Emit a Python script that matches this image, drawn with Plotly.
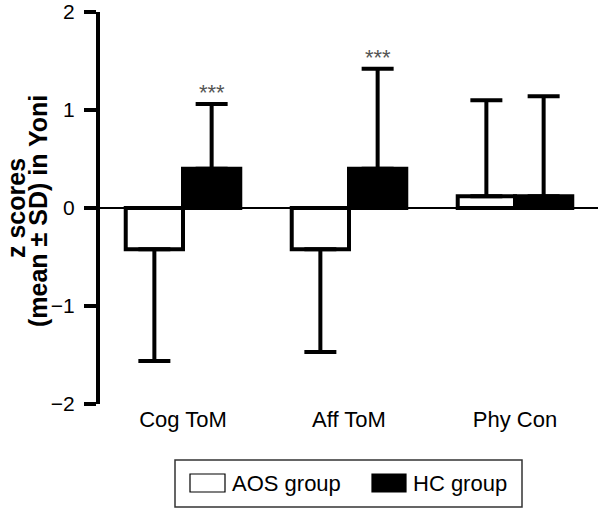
import plotly.graph_objects as go

categories = ["Cog ToM", "Aff ToM", "Phy Con"]
aos_mean = [-0.42, -0.42, 0.12]
aos_sd = [1.14, 1.05, 0.98]
hc_mean = [0.40, 0.40, 0.12]
hc_sd = [0.66, 1.02, 1.02]
significance = ["***", "***", ""]
group_names = ["AOS group", "HC group"]
group_fill = ["white", "black"]
y_ticks = [-2, -1, 0, 1, 2]
y_ticktext = ["\u22122", "\u22121", "0", "1", "2"]
y_title_lines = ["z scores", "(mean \u00b1 SD) in Yoni"]

FONT = "Liberation Sans, Arial, sans-serif"
W, H = 602, 509
ML, MR, MT, MB = 100, 4, 12, 105
PW, PH = W - ML - MR, H - MT - MB


def px_x(x):
    return (x - ML) / PW


def px_y(y):
    return (H - MB - y) / PH


def one_sided(means, sds):
    up = [sd if m >= 0 else 0 for m, sd in zip(means, sds)]
    down = [sd if m < 0 else 0 for m, sd in zip(means, sds)]
    return up, down


fig = go.Figure()
for name, fill, means, sds in [(group_names[0], group_fill[0], aos_mean, aos_sd),
                               (group_names[1], group_fill[1], hc_mean, hc_sd)]:
    up, down = one_sided(means, sds)
    fig.add_trace(go.Bar(
        name=name, x=categories, y=means, showlegend=False,
        marker=dict(color=fill, line=dict(color="black", width=4)),
        error_y=dict(type="data", symmetric=False, array=up, arrayminus=down,
                     color="black", thickness=4, width=16),
    ))

bargap = 0.31
group_w = 1 - bargap
for i, (m, sd, s) in enumerate(zip(hc_mean, hc_sd, significance)):
    if s:
        fig.add_annotation(x=i + group_w / 4, y=m + sd, xref="x", yref="y",
                           text=s, showarrow=False, yanchor="bottom", yshift=-3,
                           font=dict(family=FONT, size=22, color="#555555"))

# y-axis title, two tightly spaced bold lines
for line, cx, cy in zip(y_title_lines, [16, 38], [208, 211]):
    fig.add_annotation(x=px_x(cx), y=px_y(cy), xref="paper", yref="paper",
                       text="<b>%s</b>" % line, textangle=-90, showarrow=False,
                       xanchor="center", yanchor="middle",
                       font=dict(family=FONT, size=25, color="black"))

# custom legend (box, swatches, labels)
fig.add_shape(type="rect", xref="paper", yref="paper",
              x0=px_x(175), x1=px_x(522), y0=px_y(507), y1=px_y(460),
              line=dict(color="#333333", width=1.5), fillcolor="white", layer="above")
swatches = [(190, 225, 230), (372, 406, 411)]
for (sx0, sx1, tx), name, fill in zip(swatches, group_names, group_fill):
    fig.add_shape(type="rect", xref="paper", yref="paper",
                  x0=px_x(sx0), x1=px_x(sx1), y0=px_y(492), y1=px_y(474),
                  line=dict(color="black", width=1.2), fillcolor=fill, layer="above")
    fig.add_annotation(x=px_x(tx), y=px_y(483.5), xref="paper", yref="paper",
                       text=name, showarrow=False, xanchor="left", yanchor="middle",
                       font=dict(family=FONT, size=22, color="black"))

fig.update_layout(
    width=W, height=H,
    margin=dict(l=ML, r=MR, t=MT, b=MB),
    paper_bgcolor="white", plot_bgcolor="white",
    barmode="group", bargap=bargap, bargroupgap=0,
    font=dict(family=FONT, color="black"),
    showlegend=False,
)
fig.update_yaxes(
    range=[-2, 2], tickvals=y_ticks, ticktext=y_ticktext, automargin=False,
    showline=True, linecolor="black", linewidth=4,
    ticks="outside", ticklen=12, tickwidth=4, tickcolor="black",
    ticklabelstandoff=5, ticklabeloverflow="allow",
    tickfont=dict(family=FONT, size=21, color="black"),
    showgrid=False, zeroline=True, zerolinecolor="black", zerolinewidth=2,
)
fig.update_xaxes(
    showline=False, ticks="", showgrid=False, zeroline=False, automargin=False,
    tickfont=dict(family=FONT, size=22, color="black"),
)

fig.write_html("out.html", config={"displayModeBar": False},
               post_script="document.body.style.margin='0';document.body.style.overflow='hidden';")
